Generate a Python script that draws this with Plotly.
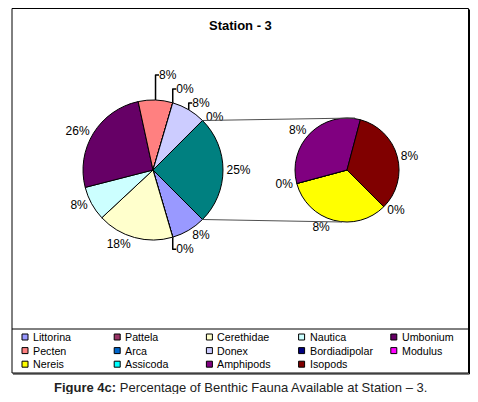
import plotly.graph_objects as go
import math

# ---------------- data ----------------
species = ["Littorina", "Pattela", "Cerethidae", "Nautica", "Umbonium",
           "Pecten", "Arca", "Donex", "Bordiadipolar", "Modulus",
           "Nereis", "Assicoda", "Amphipods", "Isopods"]
percent = [7.95, 0, 17.6, 7.95, 25.6,
           7.95, 0, 7.95, 0, 0,
           8.33, 0, 8.33, 8.34]
colors = ["#9999FF", "#993366", "#FFFFCC", "#CCFFFF", "#660066",
          "#FF8080", "#0066CC", "#CCCCFF", "#000080", "#FF00FF",
          "#FFFF00", "#00FFFF", "#800080", "#800000"]
n_main = 9                      # first 9 species in the main pie
other_label = "Other"
other_color = "#008080"
title_text = "Station - 3"
caption = "<b>Figure 4c:</b> Percentage of Benthic Fauna Available at Station \u2013 3."

# ---------------- layout helpers ----------------
OFF = 8                         # page body margin
W, H = 478 - 2 * OFF, 402 - 2 * OFF
FONT = "Liberation Sans, Arial, sans-serif"

def fx(x):
    return (x - OFF) / W

def fy(y):
    return 1 - (y - OFF) / H

main_vals = percent[:n_main] + [sum(percent[n_main:])]
main_labels = species[:n_main] + [other_label]
main_colors = colors[:n_main] + [other_color]
sec_vals = percent[n_main:]
sec_labels = species[n_main:]
sec_colors = colors[n_main:]

c1, r1 = (153, 170), 70
c2, r2 = (347, 170), 52
rot = 135

fig = go.Figure()
fig.add_trace(go.Pie(
    labels=main_labels, values=main_vals, sort=False, direction="clockwise",
    rotation=rot, marker=dict(colors=main_colors, line=dict(color="black", width=1)),
    textposition="outside", texttemplate="%{value:.0f}%",
    textfont=dict(family=FONT, size=12, color="black"),
    domain=dict(x=[fx(c1[0] - r1), fx(c1[0] + r1)], y=[fy(c1[1] + r1), fy(c1[1] - r1)]),
    showlegend=False, hoverinfo="label+value"))
fig.add_trace(go.Pie(
    labels=sec_labels, values=sec_vals, sort=False, direction="clockwise",
    rotation=rot, marker=dict(colors=sec_colors, line=dict(color="black", width=1)),
    textposition="outside", texttemplate="%{value:.0f}%",
    textfont=dict(family=FONT, size=12, color="black"),
    domain=dict(x=[fx(c2[0] - r2), fx(c2[0] + r2)], y=[fy(c2[1] + r2), fy(c2[1] - r2)]),
    showlegend=False, hoverinfo="label+value"))

shapes = []
annotations = []

# connector lines between the "Other" slice and the secondary pie
tot = sum(main_vals)
a_start = math.radians(rot + 360 * sum(main_vals[:-1]) / tot)
a_end = math.radians(rot + 360)
p_up = (c1[0] + r1 * math.sin(a_start), c1[1] - r1 * math.cos(a_start))
p_dn = (c1[0] + r1 * math.sin(a_end), c1[1] - r1 * math.cos(a_end))
for p, q in [(p_up, (c2[0] + 8, c2[1] - r2)), (p_dn, (c2[0] - 5, c2[1] + r2))]:
    shapes.append(dict(type="line", xref="paper", yref="paper",
                       x0=fx(p[0]), y0=fy(p[1]), x1=fx(q[0]), y1=fy(q[1]),
                       line=dict(color="#505050", width=1.2)))

# chart frame and legend box
fl, fr, ft, fb = 12, 468.5, 8.5, 373
leg_top = 329
shapes.append(dict(type="rect", xref="paper", yref="paper",
                   x0=fx(fl), x1=fx(fr), y0=fy(fb), y1=fy(ft),
                   line=dict(color="black", width=1)))
shapes.append(dict(type="line", xref="paper", yref="paper",
                   x0=fx(fr + 1), x1=fx(fr + 1), y0=fy(fb + 1), y1=fy(ft + 1),
                   line=dict(color="black", width=1)))
shapes.append(dict(type="line", xref="paper", yref="paper",
                   x0=fx(fl + 1), x1=fx(fr + 1), y0=fy(fb + 1), y1=fy(fb + 1),
                   line=dict(color="black", width=1)))
shapes.append(dict(type="line", xref="paper", yref="paper",
                   x0=fx(fl), x1=fx(fr), y0=fy(leg_top), y1=fy(leg_top),
                   line=dict(color="black", width=1)))

# legend grid (5 columns, row-major)
ncol = 5
col0, col_step = 22, 92.2
row0, row_step = 337, 13.6
sq = 6
for i, (name, col) in enumerate(zip(species, colors)):
    cx = col0 + (i % ncol) * col_step
    cy = row0 + (i // ncol) * row_step
    shapes.append(dict(type="rect", xref="paper", yref="paper",
                       x0=fx(cx), x1=fx(cx + sq), y0=fy(cy + sq / 2), y1=fy(cy - sq / 2),
                       fillcolor=col, line=dict(color="black", width=1)))
    annotations.append(dict(text=name, xref="paper", yref="paper",
                            x=fx(cx + sq + 3), y=fy(cy), xanchor="left", yanchor="middle",
                            showarrow=False,
                            font=dict(family=FONT, size=10.7, color="black")))

# title and caption
annotations.append(dict(text="<b>" + title_text + "</b>", xref="paper", yref="paper",
                        x=fx(241), y=fy(25), xanchor="center", yanchor="middle",
                        showarrow=False, font=dict(family=FONT, size=13, color="black")))
annotations.append(dict(text=caption, xref="paper", yref="paper",
                        x=fx(240), y=fy(387), xanchor="center", yanchor="middle",
                        showarrow=False, font=dict(family=FONT, size=13, color="#222222")))

fig.update_layout(
    width=W, height=H, margin=dict(l=0, r=0, t=0, b=0),
    paper_bgcolor="white", plot_bgcolor="white",
    shapes=shapes, annotations=annotations, showlegend=False)

fig.write_html("out.html")
